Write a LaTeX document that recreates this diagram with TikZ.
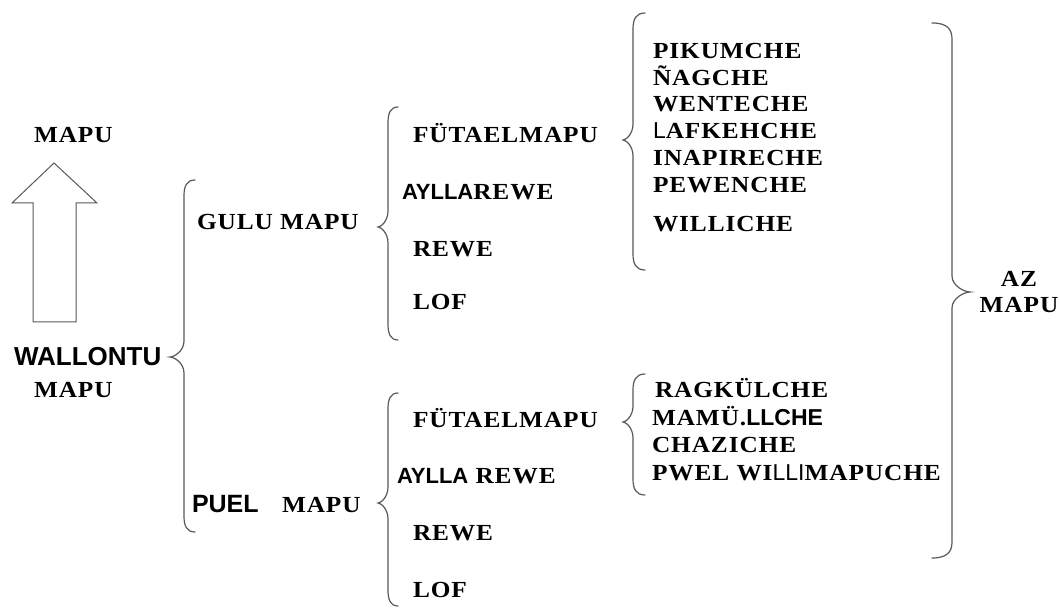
\documentclass[tikz,border=0pt]{standalone}
\usepackage{fontspec}
\newfontfamily\srf{Liberation Serif}[LetterSpace=4,FakeStretch=1.1]
\newfontfamily\sns{Liberation Sans}
\tikzset{
  txt/.style={anchor=base west, inner sep=0pt, outer sep=0pt, text=black,
    font=\srf\bfseries\fontsize{23}{23}\selectfont},
  ctxt/.style={txt, anchor=base},
  brc/.style={draw=black!65, line width=1.2pt, line cap=round},
  arrowshape/.style={draw=black!65, line width=1pt, line join=miter, fill=white}
}
% brace: #1 end x, #2 top y, #3 vertical x, #4 cusp x, #5 cusp y, #6 bottom y
\newcommand{\mybrace}[6]{%
  \pgfmathsetmacro\brEa{#3+0.25*(#1-#3)}%
  \pgfmathsetmacro\brCa{#4+0.3*(#3-#4)}%
  \draw[brc] (#1,#2) .. controls (\brEa,#2) and (#3,{#2+6}) .. (#3,{#2+16})
    -- (#3,{#5-16}) .. controls (#3,{#5-6}) and (\brCa,#5) .. (#4,#5)
    .. controls (\brCa,#5) and (#3,{#5+6}) .. (#3,{#5+16})
    -- (#3,{#6-16}) .. controls (#3,{#6-6}) and (\brEa,#6) .. (#1,#6);}
\begin{document}
\begin{tikzpicture}[x=1pt,y=-1pt]
\useasboundingbox[fill=white] (0,0) rectangle (1060,609);

% arrow
\draw[arrowshape] (33,322) -- (33,203) -- (12,203) -- (54,163) -- (97,203) -- (76,203) -- (76,322) -- cycle;
\node[txt] (mapuTop) at (34,143) {MAPU};

% left column
\node[txt, font=\sns\bfseries\fontsize{26}{26}\selectfont] (wallontu) at (14,366) {WALLONTU};
\node[txt] (mapuW) at (34,398) {MAPU};

% braces
\mybrace{195}{180}{184}{170}{357}{532}
\mybrace{398}{107}{388}{378}{227}{340}
\mybrace{398}{393}{388}{378}{503}{606}
\mybrace{645}{13}{633}{623}{140}{270}
\mybrace{645}{374}{633}{623}{422}{495}
\mybrace{932}{23}{952}{970}{292}{558}

% second column
\node[txt] (gulu) at (197,230) {GULU MAPU};
\node[txt, font=\sns\bfseries\fontsize{25}{25}\selectfont] (puel) at (192,512) {PUEL};
\node[txt] (puelmapu) at (282,512) {MAPU};

% third column, upper
\node[txt] (fut1) at (413,143) {FÜTAELMAPU};
\node[txt] (ayl1) at (402,200) {{\sns\fontsize{22}{22}\selectfont AYLLA}REWE};
\node[txt] (rew1) at (413,257) {REWE};
\node[txt] (lof1) at (413,310) {LOF};

% third column, lower
\node[txt] (fut2) at (413,427) {FÜTAELMAPU};
\node[txt] (ayl2) at (397,483) {{\sns\fontsize{22}{22}\selectfont AYLLA} REWE};
\node[txt] (rew2) at (413,540) {REWE};
\node[txt] (lof2) at (413,597) {LOF};

% fourth column, upper
\node[txt] (pik) at (653,59) {PIKUMCHE};
\node[txt] (nag) at (653,86) {ÑAGCHE};
\node[txt] (wen) at (653,112) {WENTECHE};
\node[txt] (laf) at (653,139) {{\sns\mdseries L}AFKEHCHE};
\node[txt] (ina) at (653,166) {INAPIRECHE};
\node[txt] (pew) at (653,193) {PEWENCHE};
\node[txt] (wil) at (653,232) {WILLICHE};

% fourth column, lower
\node[txt] (rag) at (655,398) {RAGKÜLCHE};
\node[txt] (mam) at (652,425) {MAMÜ.{\sns LLCHE}};
\node[txt] (cha) at (652,452) {CHAZICHE};
\node[txt] (pwe) at (652,480) {PWEL WI{\sns\mdseries LLI}MAPUCHE};

% right
\node[ctxt] (az) at (1019,287) {AZ};
\node[ctxt] (azmapu) at (1019,313) {MAPU};
\end{tikzpicture}
\end{document}
